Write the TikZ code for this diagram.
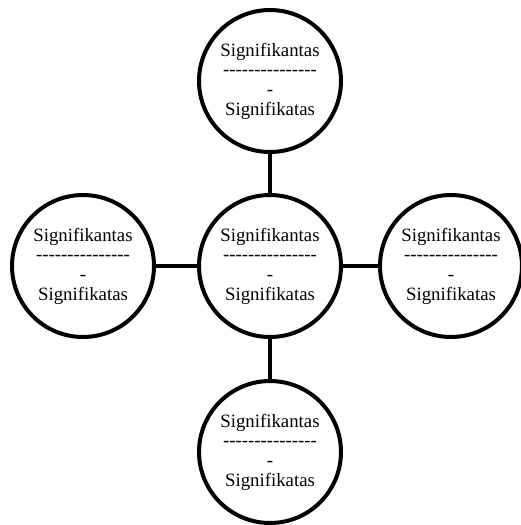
\documentclass[tikz,border=0pt]{standalone}
\usepackage{fontspec}
\newfontfamily\conceptfont{Liberation Serif}
\usetikzlibrary{shapes}

\begin{document}
\begin{tikzpicture}[x=0.02cm, y=-0.02cm,
concept/.style={draw, circle, line width=0.08cm, minimum size=2.84cm, inner sep=0pt,
align=center, font=\conceptfont\fontsize{10.7}{11.2}\selectfont},
link/.style={line width=0.08cm}]
\useasboundingbox (0,0) rectangle (521,525);
\node [concept] (sign) at (270,266) {Signifikantas\\---------------\\-\\Signifikatas};
\node [concept] (signT) at (270,81) {Signifikantas\\---------------\\-\\Signifikatas};
\node [concept] (signB) at (270,452) {Signifikantas\\---------------\\-\\Signifikatas};
\node [concept] (signL) at (83,266) {Signifikantas\\---------------\\-\\Signifikatas};
\node [concept] (signR) at (451,266) {Signifikantas\\---------------\\-\\Signifikatas};
\draw [link] (sign) -- (signT);
\draw [link] (sign) -- (signB);
\draw [link] (sign) -- (signL);
\draw [link] (sign) -- (signR);
\end{tikzpicture}
\end{document}
